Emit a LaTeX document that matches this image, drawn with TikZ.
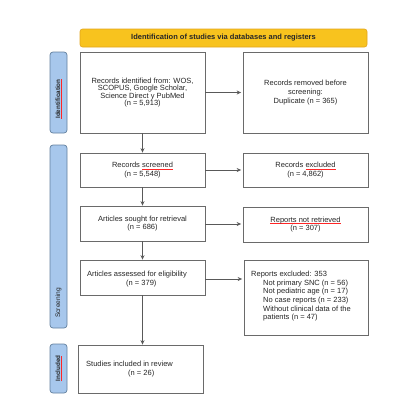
\documentclass[tikz,border=0pt]{standalone}
\usepackage{fontspec}
\setmainfont{Liberation Sans}
\usetikzlibrary{arrows.meta}
\definecolor{banfill}{HTML}{F8C31E}
\definecolor{bandraw}{HTML}{E2A51C}
\definecolor{tabfill}{HTML}{A7C7EC}
\definecolor{tabdraw}{HTML}{62809E}
\definecolor{boxdraw}{HTML}{6A6A6A}
\definecolor{txtcol}{HTML}{262626}
\newcommand\spellul[1]{\setbox0\hbox{#1}\rlap{\textcolor{red!85}{\rule[-1.4pt]{\wd0}{0.45pt}}}\box0}
\begin{document}
\begin{tikzpicture}[x=1pt,y=-1pt,
  box/.style={draw=boxdraw, line width=0.7pt, fill=white, inner sep=0pt, align=center, text=txtcol,
    font=\fontsize{7.5}{8.4}\selectfont},
  txt/.style={inner sep=0pt, align=left, text=txtcol, font=\fontsize{7.5}{8.4}\selectfont},
  tab/.style={draw=tabdraw, fill=tabfill, rounded corners=3pt, line width=0.7pt, minimum width=17pt, inner sep=0pt},
  tabtxt/.style={rotate=90, inner sep=0pt, text=txtcol, font=\fontsize{6.3}{7}\selectfont\bfseries},
  arr/.style={-{Stealth[length=4.5pt,width=4pt]}, line width=0.8pt, draw=black!65}]
\useasboundingbox (0,0) rectangle (411,407);
% banner
\node[draw=bandraw, fill=banfill, rounded corners=2.5pt, line width=0.6pt, minimum width=287pt, minimum height=18pt, inner sep=0pt,
  text=txtcol, font=\fontsize{7.5}{8}\selectfont\bfseries] (ban) at (223.5,38) {Identification of studies via databases and registers};
% side tabs
\node[tab, minimum height=81pt] (tid) at (58.5,92.5) {};
\node[tabtxt] (tidt) at (58.5,99) {\spellul{Identification}};
\node[tab, minimum height=183pt] (tsc) at (58.5,236.5) {};
\node[tabtxt, font=\fontsize{6.6}{7}\selectfont] (tsct) at (58.5,303) {Screening};
\node[tab, minimum height=49pt] (tin) at (58.5,368.5) {};
\node[tabtxt] (tint) at (58.5,368.5) {\spellul{Included}};
% left boxes
\node[box, minimum width=125pt, minimum height=81pt, font=\fontsize{7.5}{7.6}\selectfont] (b1) at (142.5,92.5)
  {Records identified from: WOS,\\SCOPUS, Google Scholar,\\Science Direct y PubMed\\(n = 5,913)};
\node[box, minimum width=125pt, minimum height=34pt] (b2) at (142.5,170) {Records \spellul{screened}\\(n = 5,548)};
\node[box, minimum width=125pt, minimum height=35pt] (b3) at (142.5,223.5) {Articles sought for retrieval\\(n = 686)};
\node[box, minimum width=125pt, minimum height=35pt] (b4) at (142.5,277.5) {};
\node[txt, anchor=west] (b4t) at (87,279) {Articles assessed for eligibility\\\hspace*{39pt}(n = 379)};
\node[box, minimum width=125pt, minimum height=48pt] (b5) at (141,369) {};
\node[txt, anchor=west] (b5t) at (86,369) {Studies included in review\\\hspace*{42pt}(n = 26)};
% right boxes
\node[box, minimum width=125pt, minimum height=81pt, font=\fontsize{7.5}{9}\selectfont] (r1) at (305.5,92.5)
  {Records removed before\\screening:\\Duplicate (n = 365)};
\node[box, minimum width=125pt, minimum height=34pt] (r2) at (305.5,170) {Records \spellul{excluded}\\(n = 4,862)};
\node[box, minimum width=125pt, minimum height=35pt] (r3) at (305.5,224.5) {\spellul{Reports not retrieved}\\(n = 307)};
\node[box, minimum width=124pt, minimum height=75pt] (r4) at (306,297.5) {};
\node[txt, anchor=north west, font=\fontsize{7.5}{8.6}\selectfont] (r4t) at (251,271)
  {Reports excluded: 353\\
   \hspace*{12pt}Not primary SNC (n = 56)\\
   \hspace*{12pt}Not pediatric age (n = 17)\\
   \hspace*{12pt}No case reports (n = 233)\\
   \hspace*{12pt}Without clinical data of the\\
   \hspace*{12pt}patients (n = 47)};
% arrows
\draw[arr] (b1.east) -- ([xshift=-1.5pt]r1.west);
\draw[arr] (b2.east) -- ([xshift=-1.5pt]r2.west);
\draw[arr] (b3.east |- 0,224) -- ([xshift=-1.5pt]r3.west |- 0,224);
\draw[arr] (b4.east |- 0,279) -- ([xshift=-1.5pt]r4.west |- 0,279);
\draw[arr] (b1.south) -- (b2.north);
\draw[arr] (b2.south) -- (b3.north);
\draw[arr] (b3.south) -- (b4.north);
\draw[arr] (b4.south) -- (b4.south |- b5.north);
\end{tikzpicture}
\end{document}
